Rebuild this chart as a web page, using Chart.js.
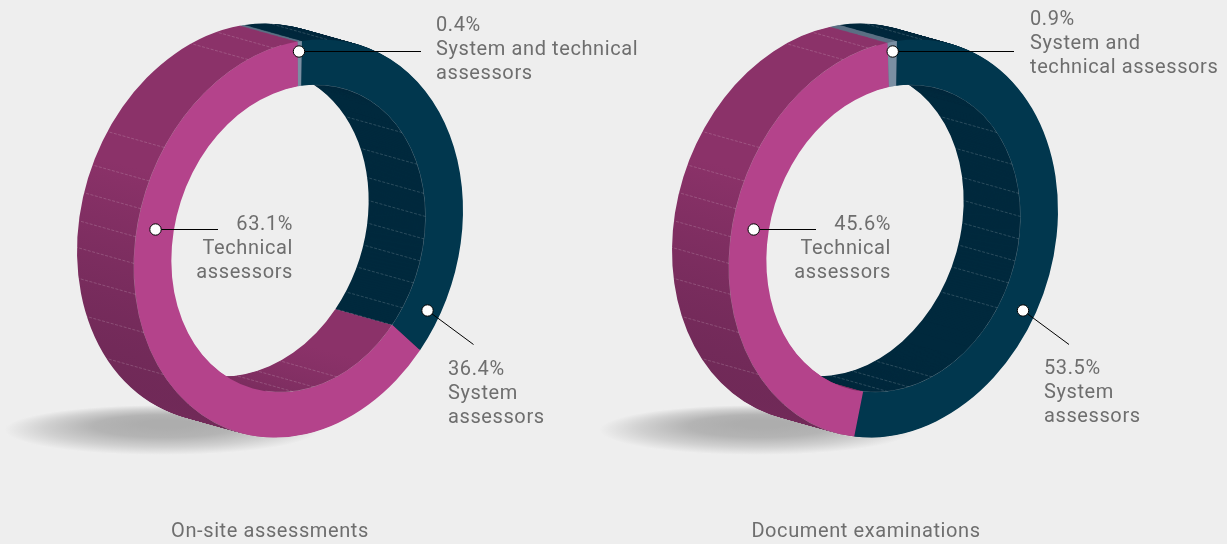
<!DOCTYPE html>
<html>
<head>
<meta charset="utf-8">
<script src="https://cdn.jsdelivr.net/npm/chart.js@4/dist/chart.umd.js"></script>
<style>
html,body{margin:0;padding:0;background:#eeeeee;width:1227px;height:544px;overflow:hidden}
canvas{position:absolute;left:0;top:0}
</style>
</head>
<body>
<canvas id="c1" width="1227" height="544"></canvas>
<canvas id="c2" width="1227" height="544"></canvas>
<script>
// ---- data (percent) ----
const categories = ['System assessors', 'Technical assessors', 'System and technical assessors'];
const onSiteValues = [36.4, 63.1, 0.4];
const documentValues = [53.5, 45.6, 0.9];
const onSiteTitle = 'On-site assessments';
const documentTitle = 'Document examinations';
// facet seams on the ring's side, degrees clockwise from 12 o'clock
const outerSeams = [-124.9, -110, -98.1, -89, -81.3, -73.2, -65, -54.6, -17.8, -8.7, 10];
const innerSeams = [54.7, 69.4, 81.2, 90, 98.4, 106.6, 115, 125, 162.3, 173, 182.5];
const onSiteExtraSeams = [132.4];
// ---- styles ----
const faceColors = ['#01374e', '#b4438b', '#7a8fa3'];
const sideDark = '#00293d', sideGrey = '#5b7084', sidePink = '#8b3269', sidePinkDeep = '#6c2855';
const rotationDeg = 1.2, cutoutPct = 77.3;
const HALF_W = 164.5, SKEW = -28.4, HALF_H = 197, DEPTH_X = -57, DEPTH_Y = -16;
const FONT = '20px Roboto', SPACING = '0.6px', INK = '#6e6e6e';

function ringPlugin(cfg) {
  return {
    id: 'ring',
    beforeDatasetsDraw(chart) {
      const ctx = chart.ctx, arcs = chart.getDatasetMeta(0).data;
      const R = arcs[0].outerRadius, ax = arcs[0].x, ay = arcs[0].y;
      const a = HALF_W / R, b = SKEW / R, d = HALF_H / R;
      const place = (ox, oy) => {
        ctx.translate(cfg.cx + ox, cfg.cy + oy);
        ctx.transform(a, b, 0, d, 0, 0);
        ctx.translate(-ax, -ay);
      };
      // floor shadow
      ctx.save();
      ctx.translate(cfg.cx - 137, 430);
      ctx.scale(1, 25 / 157);
      const sg = ctx.createRadialGradient(5, -38, 25, 0, 0, 157);
      sg.addColorStop(0, '#adadad');
      sg.addColorStop(0.35, '#b4b4b4');
      sg.addColorStop(0.7, '#d0d0d0');
      sg.addColorStop(1, '#eeeeee');
      ctx.fillStyle = sg;
      ctx.beginPath(); ctx.arc(0, 0, 157, 0, Math.PI * 2); ctx.fill();
      ctx.restore();

      // side-wall gradient: fixed direction on the page, converted into ring space
      const nx = -0.668, ny = 0.744, L = 172;
      const p = { x: cfg.cx - 192.5 , y: 130 };
      const gx = (a * nx + b * ny) / L, gy = (d * ny) / L;
      const ux = (p.x - cfg.cx) / a, uy = ((p.y - cfg.cy) - b * ux) / d;
      const g2 = gx * gx + gy * gy;
      const grad = ctx.createLinearGradient(ax + ux, ay + uy, ax + ux + gx / g2, ay + uy + gy / g2);
      grad.addColorStop(0, sidePink);
      grad.addColorStop(1, sidePinkDeep);
      const sideFill = [sideDark, grad, sideGrey];

      const ghosts = arcs.map((arc, i) => {
        const g = Object.create(arc);
        const o = Object.create(arc.options);
        o.backgroundColor = sideFill[i];
        g.options = o;
        return g;
      });
      const steps = 58;
      for (let s = steps; s >= 1; s--) {
        const t = s / steps;
        ctx.save();
        place(DEPTH_X * t, DEPTH_Y * t);
        ghosts.forEach(g => g.draw(ctx));
        ctx.restore();
      }

      // thin facet seams
      const rIn = arcs[0].innerRadius, rad = v => (v - 90) * Math.PI / 180;
      const seam = (deg, r) => {
        const x = Math.cos(rad(deg)) * r / R, y = Math.sin(rad(deg)) * r / R;
        const sx = cfg.cx + HALF_W * x, sy = cfg.cy + SKEW * x + HALF_H * y;
        ctx.moveTo(sx, sy);
        ctx.lineTo(sx + DEPTH_X, sy + DEPTH_Y);
      };
      ctx.save();
      ctx.lineWidth = 0.7;
      ctx.setLineDash([3, 1.5]);
      ctx.strokeStyle = 'rgba(255,255,255,0.24)';
      ctx.beginPath();
      outerSeams.forEach(v => seam(v, R));
      innerSeams.concat(cfg.extraSeams).forEach(v => seam(v, rIn));
      ctx.stroke();
      ctx.setLineDash([]);
      // front rim highlights
      ctx.strokeStyle = 'rgba(255,255,255,0.45)';
      ctx.save(); place(0, 0); ctx.beginPath();
      ctx.arc(ax, ay, R, rad(-172), rad(-6)); ctx.restore(); ctx.stroke();
      ctx.save(); place(0, 0); ctx.beginPath();
      ctx.arc(ax, ay, rIn, rad(6), rad(195)); ctx.restore(); ctx.stroke();
      ctx.restore();

      // front face
      ctx.save();
      place(0, 0);
      arcs.forEach(arc => arc.draw(ctx));
      ctx.restore();
      return false;
    },
    afterDraw(chart) {
      const ctx = chart.ctx;
      ctx.save();
      ctx.font = FONT;
      ctx.letterSpacing = SPACING;
      ctx.fillStyle = INK;
      ctx.textBaseline = 'middle';
      cfg.notes.forEach(n => {
        ctx.strokeStyle = '#000';
        ctx.lineWidth = 1;
        ctx.beginPath(); ctx.moveTo(n.mx, n.my); ctx.lineTo(n.ex, n.ey); ctx.stroke();
        ctx.beginPath(); ctx.arc(n.mx, n.my, 5.7, 0, Math.PI * 2);
        ctx.fillStyle = '#fff'; ctx.fill();
        ctx.stroke();
        ctx.fillStyle = INK;
        ctx.textAlign = n.align;
        n.lines.forEach((t, i) => ctx.fillText(t, n.tx, n.ty + i * 24));
      });
      ctx.textAlign = 'center';
      ctx.fillText(cfg.title, cfg.titleX, 532);
      ctx.restore();
    }
  };
}

function build(id, values, cfg) {
  new Chart(document.getElementById(id), {
    type: 'doughnut',
    data: { labels: categories, datasets: [{ data: values, backgroundColor: faceColors, borderWidth: 0 }] },
    options: {
      responsive: false, animation: false, cutout: cutoutPct + '%', rotation: rotationDeg,
      plugins: { legend: { display: false }, tooltip: { enabled: false } },
      events: []
    },
    plugins: [ringPlugin(cfg)]
  });
}

const pct = v => v.toFixed(1) + '%';
build('c1', onSiteValues, {
  cx: 298.5, cy: 238.5, extraSeams: onSiteExtraSeams, title: onSiteTitle, titleX: 270,
  notes: [
    { mx: 299, my: 51.5, ex: 421, ey: 51.5, tx: 436, ty: 26, align: 'left', lines: [pct(onSiteValues[2]), 'System and technical', 'assessors'] },
    { mx: 155.5, my: 229.5, ex: 218, ey: 229.5, tx: 293, ty: 225, align: 'right', lines: [pct(onSiteValues[1]), 'Technical', 'assessors'] },
    { mx: 427.5, my: 310.5, ex: 473.5, ey: 344.5, tx: 448, ty: 370, align: 'left', lines: [pct(onSiteValues[0]), 'System', 'assessors'] }
  ]
});
build('c2', documentValues, {
  cx: 893.5, cy: 238.5, extraSeams: [], title: documentTitle, titleX: 866,
  notes: [
    { mx: 892.7, my: 51.5, ex: 1014, ey: 51.5, tx: 1030, ty: 20, align: 'left', lines: [pct(documentValues[2]), 'System and', 'technical assessors'] },
    { mx: 753.7, my: 229.5, ex: 816, ey: 229.5, tx: 891, ty: 225, align: 'right', lines: [pct(documentValues[1]), 'Technical', 'assessors'] },
    { mx: 1023, my: 310.5, ex: 1069, ey: 344.5, tx: 1044, ty: 369, align: 'left', lines: [pct(documentValues[0]), 'System', 'assessors'] }
  ]
});
</script>
</body>
</html>
